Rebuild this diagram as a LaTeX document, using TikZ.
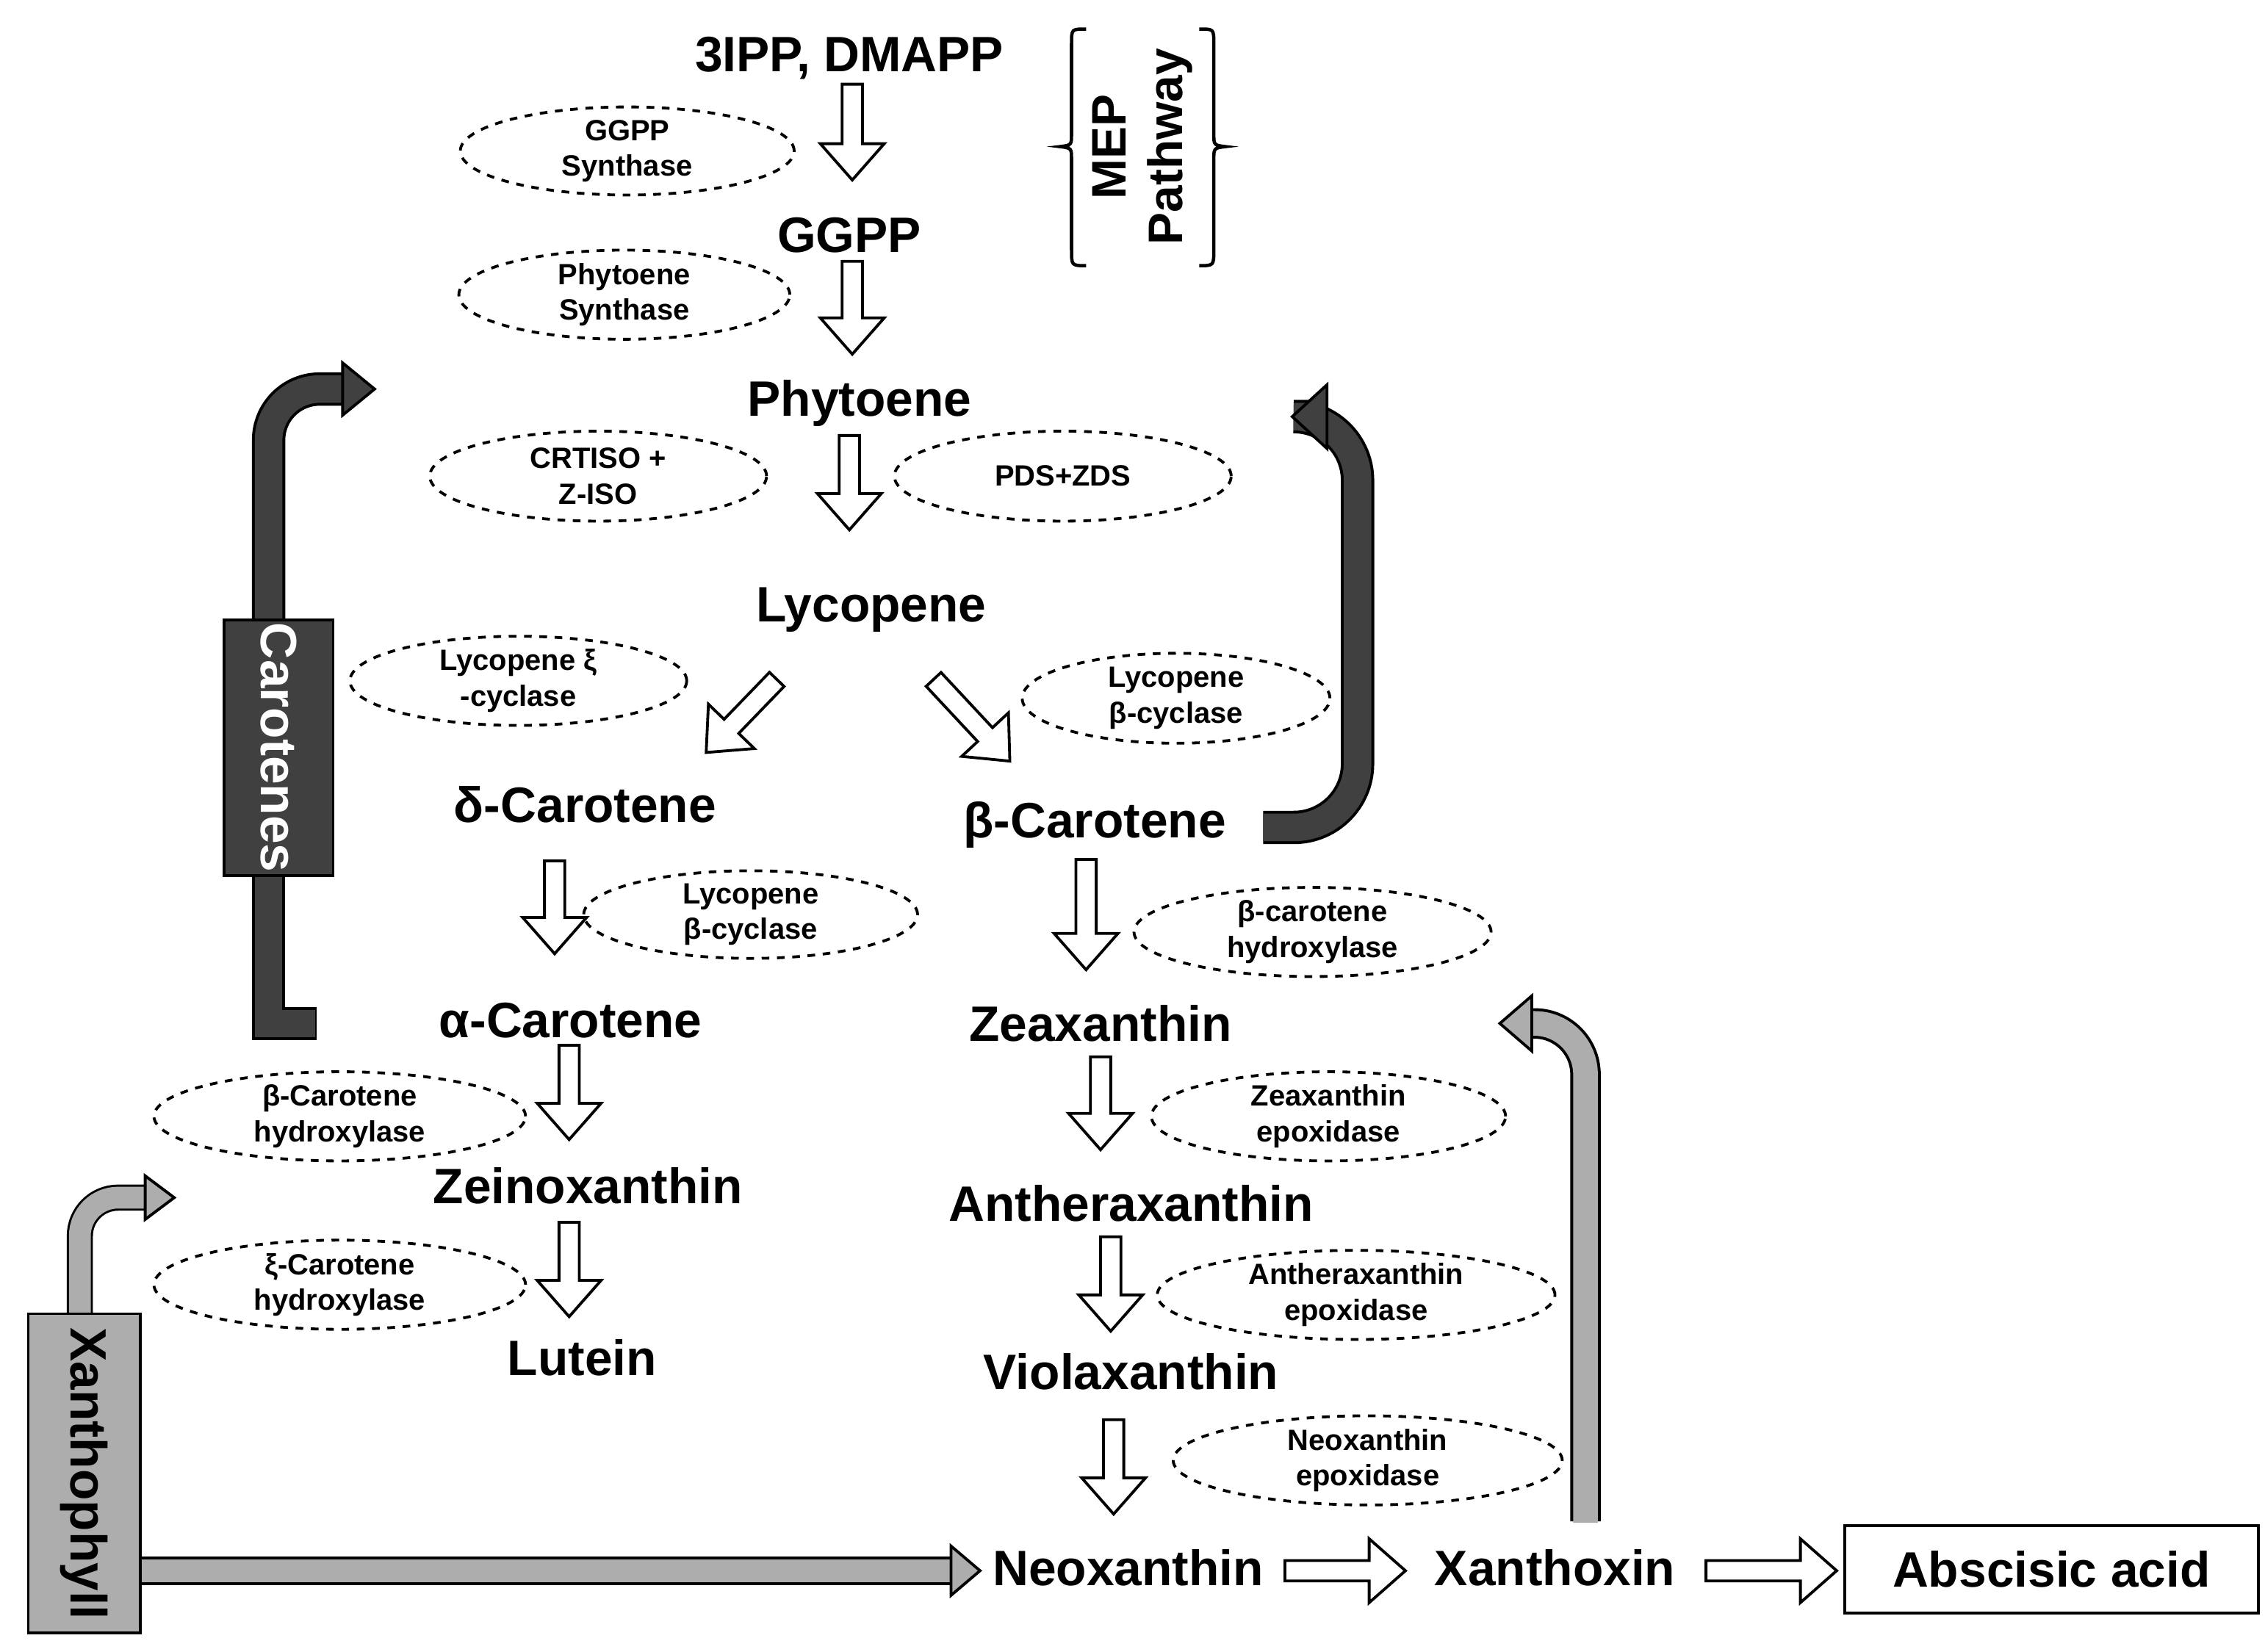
\documentclass[tikz,border=0pt]{standalone}
\usepackage{fontspec}
\usetikzlibrary{shapes.geometric}
\setmainfont{Liberation Sans}
\begin{document}
\begin{tikzpicture}[x=0.02cm,y=-0.02cm,
  lab/.style={font=\fontsize{19.5}{22}\selectfont\bfseries},
  enz/.style={draw,dashed,line width=1.1pt,ellipse,inner sep=0pt,align=center,font=\fontsize{11.5}{14}\selectfont\bfseries},
  harrow/.style={draw,line width=1.1pt,fill=white}]
\useasboundingbox (0,0) rectangle (1560,1138);
\newcommand\harr[4]{\begin{scope}[shift={(#1,#2)},rotate=#3]
 \path[harrow] (0,-7)--(#4-25,-7)--(#4-25,-22)--(#4,0)--(#4-25,22)--(#4-25,7)--(0,7)--cycle;\end{scope}}
\colorlet{dk}{black!75}\colorlet{lg}{black!32}
% labels
\node[lab] (ipp) at (585,40) {3IPP, DMAPP};
\node[lab] (ggpp) at (585,162) {GGPP};
\node[lab] (phy) at (592,278) {Phytoene};
\node[lab] (lyc) at (600,420) {Lycopene};
\node[lab] (dc) at (403,554) {δ-Carotene};
\node[lab] (bc) at (754,568) {β-Carotene};
\node[lab] (ac) at (393,703) {α-Carotene};
\node[lab] (zea) at (758,705) {Zeaxanthin};
\node[lab] (zein) at (405,817) {Zeinoxanthin};
\node[lab] (anth) at (779,829) {Antheraxanthin};
\node[lab] (lut) at (401,935) {Lutein};
\node[lab] (vio) at (779,945) {Violaxanthin};
\node[lab] (neo) at (777,1080) {Neoxanthin};
\node[lab] (xan) at (1071,1080) {Xanthoxin};
\node[lab,draw,line width=1.1pt,minimum width=5.7cm,minimum height=1.2cm] (aba) at (1413,1081) {Abscisic acid};
% enzymes
\node[enz,minimum width=4.6cm,minimum height=1.1cm] at (432,104) {GGPP\\Synthase};
\node[enz,minimum width=4.56cm,minimum height=1.04cm] at (430,203) {Phytoene\\Synthase};
\node[enz,minimum width=4.64cm,minimum height=1.24cm] at (412,328) {CRTISO +\\Z-ISO};
\node[enz,minimum width=4.64cm,minimum height=1.24cm] at (732,328) {PDS+ZDS};
\node[enz,minimum width=4.64cm,minimum height=1.16cm] at (357,469) {Lycopene ξ\\-cyclase};
\node[enz,minimum width=4.24cm,minimum height=1.24cm] at (810,481) {Lycopene\\β-cyclase};
\node[enz,minimum width=4.6cm,minimum height=1.2cm] at (517,630) {Lycopene\\β-cyclase};
\node[enz,minimum width=4.92cm,minimum height=1.2cm] at (904,642) {β-carotene\\hydroxylase};
\node[enz,minimum width=5.12cm,minimum height=1.2cm] at (234,769) {β-Carotene\\hydroxylase};
\node[enz,minimum width=4.88cm,minimum height=1.2cm] at (915,769) {Zeaxanthin\\epoxidase};
\node[enz,minimum width=5.12cm,minimum height=1.2cm] at (234,885) {ξ-Carotene\\hydroxylase};
\node[enz,minimum width=5.48cm,minimum height=1.2cm] at (934,892) {Antheraxanthin\\epoxidase};
\node[enz,minimum width=5.36cm,minimum height=1.2cm] at (942,1006) {Neoxanthin\\epoxidase};
% hollow arrows
\harr{587}{58}{-90}{66}
\harr{587}{180}{-90}{64}
\harr{585}{300}{-90}{65}
\harr{535}{468}{-134}{70}
\harr{643}{468}{-47}{77}
\harr{382}{593}{-90}{64}
\harr{748}{592}{-90}{76}
\harr{392}{720}{-90}{65}
\harr{392}{842}{-90}{65}
\harr{758}{728}{-90}{64}
\harr{765}{852}{-90}{65}
\harr{767}{978}{-90}{65}
\harr{885}{1082}{0}{83}
\harr{1175}{1082}{0}{90}
% MEP brace
\draw[line width=1.3pt] (748,20) .. controls (738,20) .. (738,30) -- (738,92) .. controls (738,100) .. (730,101) .. controls (738,102) .. (738,110) -- (738,172) .. controls (738,183) .. (748,183);
\draw[line width=1.3pt] (826,20) .. controls (836,20) .. (836,30) -- (836,92) .. controls (836,100) .. (844,101) .. controls (836,102) .. (836,110) -- (836,172) .. controls (836,183) .. (826,183);
\node[lab,rotate=90,align=center,font=\fontsize{19}{22}\selectfont\bfseries] (mep) at (787,101) {MEP\\Pathway};
% dark bands
\draw[line width=0.46cm] (185,603)--(185,705)--(218,705);
\draw[line width=0.38cm,dk] (185,603)--(185,705)--(217,705);
\draw[line width=0.46cm,rounded corners=20] (185,427)--(185,268)--(240,268);
\draw[line width=0.38cm,dk,rounded corners=20] (185,427)--(185,268)--(240,268);
\filldraw[fill=dk,line width=1.1pt] (236,250)--(258,268)--(236,286)--cycle;
\draw[line width=0.46cm,rounded corners=25] (870,570)--(935,570)--(935,287)--(912,287);
\draw[line width=0.38cm,dk,rounded corners=25] (870,570)--(935,570)--(935,287)--(912,287);
\filldraw[fill=dk,line width=1.1pt] (914,265)--(890,287)--(914,309)--cycle;
\node[draw,fill=dk,line width=1.1pt,minimum width=1.5cm,minimum height=3.52cm] (car) at (192,515) {};
\node[rotate=-90,text=white,font=\fontsize{20}{22}\selectfont\bfseries] at (car) {Carotenes};
% light bands
\draw[line width=0.36cm,rounded corners=15] (55,905)--(55,825)--(102,825);
\draw[line width=0.3cm,lg,rounded corners=15] (55,905)--(55,825)--(102,825);
\filldraw[fill=lg,line width=1.1pt] (100,810)--(120,825)--(100,840)--cycle;
\draw[line width=0.4cm] (97,1082)--(657,1082);
\draw[line width=0.32cm,lg] (95,1082)--(657,1082);
\filldraw[fill=lg,line width=1.1pt] (655,1065)--(675,1082)--(655,1099)--cycle;
\draw[line width=0.42cm,rounded corners=20] (1092,1048)--(1092,705)--(1053,705);
\draw[line width=0.34cm,lg,rounded corners=20] (1092,1049)--(1092,705)--(1053,705);
\filldraw[fill=lg,line width=1.1pt] (1055,686)--(1033,705)--(1055,724)--cycle;
\node[draw,fill=lg,line width=1.1pt,minimum width=1.54cm,minimum height=4.4cm] (xph) at (58,1015) {};
\node[rotate=-90,font=\fontsize{20}{22}\selectfont\bfseries] at (xph) {Xanthophyll};
\end{tikzpicture}
\end{document}
